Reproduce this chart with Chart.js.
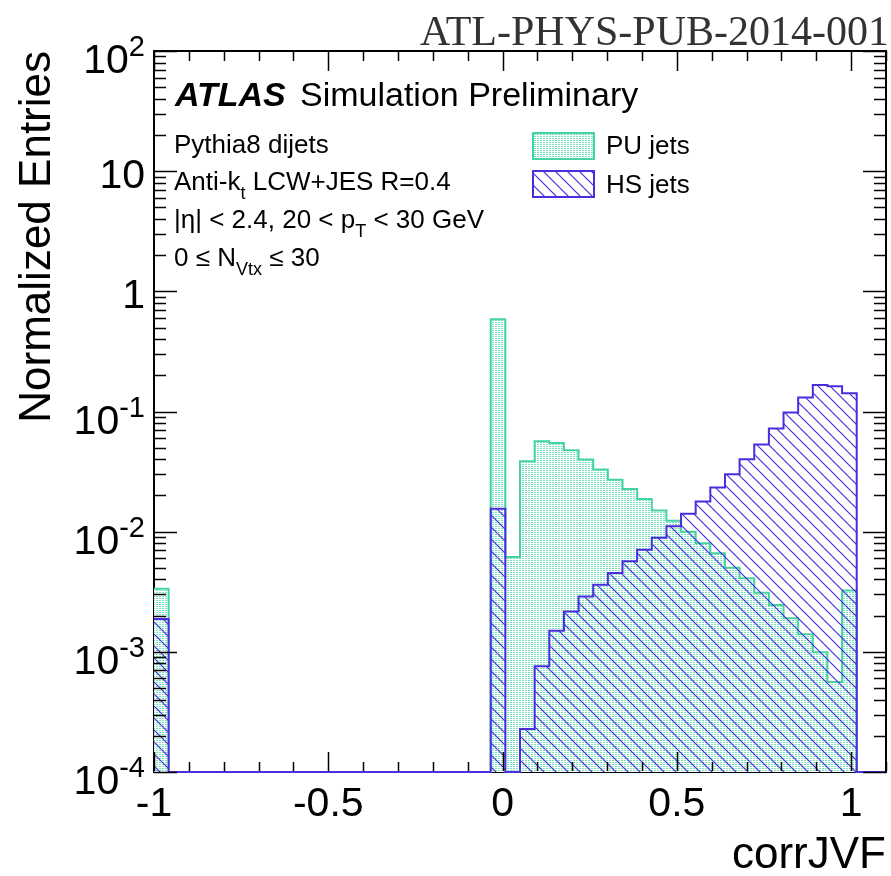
<!DOCTYPE html>
<html><head><meta charset="utf-8">
<script src="https://cdn.jsdelivr.net/npm/chart.js@4/dist/chart.umd.min.js"></script>
<style>html,body{margin:0;padding:0;background:#fff}#wrap{width:891px;height:876px;position:relative}</style>
</head><body><div id="wrap"><canvas id="c" width="891" height="876"></canvas></div>
<script>
// ---- data (histogram, 50 bins from -1.0 to 1.1) ----
const binLow = -1.0;
const binWidth = 0.042;
const puValues = [0.00335,
  0,0,0,0,0,0,0,0,0,0,0,0,0,0,0,0,0,0,0,0,0,0,
  0.585, 0.00615, 0.0385, 0.0566, 0.0548, 0.0476, 0.0398, 0.0329, 0.0271, 0.0227,
  0.0187, 0.0150, 0.0123, 0.0100, 0.0080, 0.0066, 0.0050, 0.0041, 0.0031, 0.00245,
  0.0019, 0.0014, 0.00099, 0.00056, 0.00324, 0, 0];
const hsValues = [0.00188,
  0,0,0,0,0,0,0,0,0,0,0,0,0,0,0,0,0,0,0,0,0,0,
  0.0155, 0, 0.000228, 0.00076, 0.0015, 0.00217, 0.00289, 0.00362, 0.00453, 0.00566,
  0.00708, 0.0089, 0.0111, 0.0141, 0.0178, 0.0233, 0.0300, 0.0400, 0.0531, 0.0722,
  0.098, 0.131, 0.166, 0.162, 0.142, 0, 0];
const seriesLabels = ['PU jets', 'HS jets'];
const xTickValues = [-1, -0.5, 0, 0.5, 1];
const xTickLabels = ['-1', '-0.5', '0', '0.5', '1'];
const yTickExponents = [-4, -3, -2, -1, 0, 1, 2];
const yTickLabels = [['10','-4'],['10','-3'],['10','-2'],['10','-1'],['1',''],['10',''],['10','2']];
const xTitle = 'corrJVF';
const yTitle = 'Normalized Entries';
const docLabel = 'ATL-PHYS-PUB-2014-001';
const xMin = -1.0, xMax = 1.1, yMin = 1e-4, yMax = 1e2;

const PU_COLOR = '#45d4a0';
const HS_COLOR = '#4a2ddc';
const SANS = '"Liberation Sans", Arial, Helvetica, sans-serif';

function histPoints(vals){
  const pts = [];
  for (let k = 0; k < vals.length; k++) pts.push({x: binLow + k*binWidth, y: Math.max(vals[k], yMin)});
  pts.push({x: binLow + vals.length*binWidth, y: Math.max(vals[vals.length-1], yMin)});
  return pts;
}
function dotPattern(){
  const c = document.createElement('canvas'); c.width = 3; c.height = 2;
  const g = c.getContext('2d');
  g.fillStyle = '#ffffff'; g.fillRect(0,0,3,2);
  g.fillStyle = 'rgb(120,226,188)'; g.fillRect(0,0,2,1);
  return g.createPattern(c, 'repeat');
}
function hatchPattern(){
  const s = 12;
  const c = document.createElement('canvas'); c.width = s; c.height = s;
  const g = c.getContext('2d');
  g.strokeStyle = HS_COLOR; g.lineWidth = 1.2;
  g.beginPath();
  g.moveTo(0,0); g.lineTo(s,s);
  g.moveTo(-2,s-2); g.lineTo(2,s+2);
  g.moveTo(s-2,-2); g.lineTo(s+2,2);
  g.stroke();
  return g.createPattern(c, 'repeat');
}
const puFill = dotPattern();
const hsFill = hatchPattern();

function drawRich(ctx, parts, x, y, size){
  let cx = x;
  for (const [t, m] of parts){
    let fs = size, dy = 0;
    if (m === 'sub'){ fs = Math.round(size*0.7); dy = size*0.35; }
    if (m === 'sup'){ fs = Math.round(size*0.7); dy = -size*0.42; }
    ctx.font = fs + 'px ' + SANS;
    ctx.fillText(t, cx, y + dy);
    cx += ctx.measureText(t).width;
  }
  return cx;
}

const framePlugin = {
  id: 'framePlugin',
  beforeDatasetsDraw(chart){
    const ctx = chart.ctx, a = chart.chartArea;
    ctx.save();
    ctx.strokeStyle = '#000';
    ctx.lineWidth = 2;
    ctx.strokeRect(a.left, a.top, a.right - a.left, a.bottom - a.top);
    ctx.restore();
  },
  afterDraw(chart){
    const ctx = chart.ctx;
    const a = chart.chartArea;
    const xs = chart.scales.x, ys = chart.scales.y;
    ctx.save();
    ctx.fillStyle = '#000'; ctx.strokeStyle = '#000';
    ctx.lineWidth = 1.5;
    ctx.beginPath();
    for (let i = 0; i <= 21; i++){
      const v = Math.round((xMin + i*0.1)*10)/10;
      const px = Math.round(xs.getPixelForValue(v)) + 0.5;
      const major = xTickValues.some(t => Math.abs(t - v) < 1e-9);
      const L = major ? 20 : 10;
      ctx.moveTo(px, a.bottom - 1); ctx.lineTo(px, a.bottom - L);
      ctx.moveTo(px, a.top); ctx.lineTo(px, a.top + L);
    }
    for (const e of yTickExponents){
      const py = Math.round(ys.getPixelForValue(Math.pow(10, e))) + 0.5;
      ctx.moveTo(a.left, py); ctx.lineTo(a.left + 23, py);
      ctx.moveTo(a.right, py); ctx.lineTo(a.right - 23, py);
      if (e < 2){
        for (let m = 2; m <= 9; m++){
          const q = Math.round(ys.getPixelForValue(m*Math.pow(10, e))) + 0.5;
          ctx.moveTo(a.left, q); ctx.lineTo(a.left + 12, q);
          ctx.moveTo(a.right, q); ctx.lineTo(a.right - 12, q);
        }
      }
    }
    ctx.stroke();
    // top and right frame edges re-drawn above data
    ctx.lineWidth = 2;
    ctx.beginPath();
    ctx.moveTo(a.left, a.top); ctx.lineTo(a.right, a.top); ctx.lineTo(a.right, a.bottom);
    ctx.stroke();

    ctx.textBaseline = 'alphabetic';
    ctx.textAlign = 'center';
    ctx.font = '41px ' + SANS;
    xTickValues.forEach((v, i) => {
      ctx.fillText(xTickLabels[i], xs.getPixelForValue(v), a.bottom + 44);
    });
    ctx.textAlign = 'left';
    yTickExponents.forEach((e, i) => {
      const py = ys.getPixelForValue(Math.pow(10, e));
      const [base, sup] = yTickLabels[i];
      ctx.font = '41px ' + SANS;
      const bw = ctx.measureText(base).width;
      ctx.font = '29px ' + SANS;
      const sw = sup ? ctx.measureText(sup).width : 0;
      const right = 145;
      const x0 = right - bw - sw;
      const baseY = py + (sup ? 22 : 17);
      ctx.font = '41px ' + SANS;
      ctx.fillText(base, x0, baseY);
      if (sup){ ctx.font = '29px ' + SANS; ctx.fillText(sup, x0 + bw, baseY - 17); }
    });
    ctx.font = '44px ' + SANS;
    ctx.textAlign = 'right';
    ctx.fillText(xTitle, a.right, 868);
    ctx.save();
    ctx.translate(50, a.top);
    ctx.rotate(-Math.PI/2);
    ctx.font = '44px ' + SANS;
    ctx.textAlign = 'right';
    ctx.fillText(yTitle, 0, 0);
    ctx.restore();

    ctx.fillStyle = '#333';
    ctx.font = '42px "Liberation Serif", "Times New Roman", serif';
    ctx.textAlign = 'right';
    ctx.fillText(docLabel, 889, 45, 478);

    ctx.fillStyle = '#000';
    ctx.textAlign = 'left';
    ctx.font = 'italic bold 34px ' + SANS;
    ctx.fillText('ATLAS', 175, 106);
    ctx.font = '34px ' + SANS;
    ctx.fillText('Simulation Preliminary', 300, 106);

    const fs = 26;
    drawRich(ctx, [['Pythia8 dijets','n']], 174, 153, fs);
    drawRich(ctx, [['Anti-k','n'],['t','sub'],[' LCW+JES R=0.4','n']], 174, 190, fs);
    drawRich(ctx, [['|\u03B7| < 2.4, 20 < p','n'],['T','sub'],[' < 30 GeV','n']], 174, 228, fs);
    drawRich(ctx, [['0 \u2264 N','n'],['Vtx','sub'],[' \u2264 30','n']], 174, 266, fs);

    const boxes = [[133, puFill, PU_COLOR, 154], [171, hsFill, HS_COLOR, 193]];
    boxes.forEach(([by, fill, col, ty], i) => {
      ctx.fillStyle = '#fff';
      ctx.fillRect(533, by, 61, 26);
      ctx.fillStyle = fill;
      ctx.fillRect(533, by, 61, 26);
      ctx.strokeStyle = col; ctx.lineWidth = 2;
      ctx.strokeRect(533, by, 61, 26);
      ctx.fillStyle = '#000';
      ctx.font = fs + 'px ' + SANS;
      ctx.fillText(seriesLabels[i], 606, ty);
    });
    ctx.restore();
  }
};

new Chart(document.getElementById('c'), {
  type: 'line',
  data: {
    datasets: [
      { label: seriesLabels[0], data: histPoints(puValues), stepped: 'before', fill: 'start',
        borderColor: PU_COLOR, backgroundColor: puFill, borderWidth: 2, pointRadius: 0, order: 2, clip: 2 },
      { label: seriesLabels[1], data: histPoints(hsValues), stepped: 'before', fill: 'start',
        borderColor: HS_COLOR, backgroundColor: hsFill, borderWidth: 2, pointRadius: 0, order: 1, clip: 2 }
    ]
  },
  options: {
    responsive: false,
    animation: false,
    events: [],
    layout: { padding: { left: 154, right: 5, top: 51, bottom: 104 } },
    scales: {
      x: { type: 'linear', min: xMin, max: xMax, display: false },
      y: { type: 'logarithmic', min: yMin, max: yMax, display: false }
    },
    plugins: { legend: { display: false }, tooltip: { enabled: false } }
  },
  plugins: [framePlugin]
});
</script></body></html>
